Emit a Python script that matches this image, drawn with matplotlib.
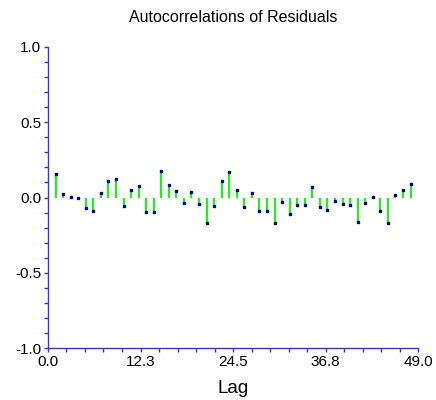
import matplotlib
matplotlib.use("Agg")
import matplotlib.pyplot as plt
from matplotlib.ticker import MultipleLocator, FixedLocator, FormatStrFormatter
import numpy as np

# Residual autocorrelations, lags 1..48
lags = list(range(1, 49))
acf = [
    0.154, 0.022, 0.004, -0.002, -0.073, -0.093, 0.029, 0.110, 0.121, -0.057,
    0.053, 0.075, -0.097, -0.097, 0.174, 0.083, 0.046, -0.037, 0.035, -0.040,
    -0.170, -0.059, 0.108, 0.172, 0.051, -0.066, 0.029, -0.088, -0.093, -0.170,
    -0.033, -0.112, -0.053, -0.053, 0.070, -0.062, -0.081, -0.024, -0.040, -0.048,
    -0.161, -0.035, 0.004, -0.088, -0.172, 0.018, 0.053, 0.093,
]
x_ticks = [0.0, 12.25, 24.5, 36.75, 49.0]
x_tick_labels = ["0.0", "12.3", "24.5", "36.8", "49.0"]
y_ticks = [-1.0, -0.5, 0.0, 0.5, 1.0]

AXIS_COLOR = "#3a3ab8"
STEM_COLOR = "#22ee22"
MARK_COLOR = "#000080"

plt.rcParams.update({
    "font.family": ["Liberation Sans", "DejaVu Sans"],
    "font.size": 10,
})

fig = plt.figure(figsize=(4.36, 4.0), dpi=100)
ax = fig.add_axes([0.110, 0.13, 0.849, 0.7525])

ax.vlines(lags, 0, acf, color=STEM_COLOR, linewidth=1.6, zorder=2)
ax.plot(lags, acf, linestyle="none", marker="s", markersize=1.8,
        color=MARK_COLOR, zorder=3)

ax.set_xlim(0, 49)
ax.set_ylim(-1.0, 1.0)

ax.xaxis.set_major_locator(FixedLocator(x_ticks))
ax.set_xticklabels(x_tick_labels)
ax.xaxis.set_minor_locator(MultipleLocator(49 / 20))
ax.yaxis.set_major_locator(FixedLocator(y_ticks))
ax.yaxis.set_major_formatter(FormatStrFormatter("%.1f"))
ax.yaxis.set_minor_locator(MultipleLocator(0.1))

for side in ("top", "right"):
    ax.spines[side].set_visible(False)
for side in ("left", "bottom"):
    ax.spines[side].set_color(AXIS_COLOR)
    ax.spines[side].set_linewidth(1.0)

ax.tick_params(which="both", direction="out", color=AXIS_COLOR, width=1.0,
               length=3.2, labelsize=11, labelcolor="black", pad=1.5)

ax.set_xlabel("Lag", fontsize=13.5, labelpad=8)
ax.set_title("Autocorrelations of Residuals", fontsize=11.5, pad=18)

fig.savefig("out.png", dpi=100, facecolor="white")
